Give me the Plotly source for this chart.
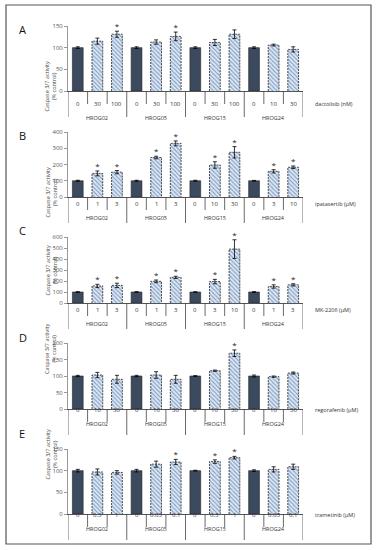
import plotly.graph_objects as go

W, H = 377, 550

groups = ["HROG02", "HROG05", "HROG15", "HROG24"]

panel_letters = ["A", "B", "C", "D", "E"]
drugs = ["dactolisib (nM)", "ipatasertib (μM)", "MK-2206 (μM)", "regorafenib (μM)", "trametinib (μM)"]

doses_A = ["0", "30", "100", "0", "30", "100", "0", "30", "100", "0", "10", "30"]
doses_B = ["0", "1", "3", "0", "1", "3", "0", "10", "30", "0", "3", "10"]
doses_C = ["0", "1", "3", "0", "1", "3", "0", "3", "10", "0", "1", "3"]
doses_D = ["0", "10", "30", "0", "10", "30", "0", "10", "30", "0", "10", "30"]
doses_E = ["0", "0.3", "1", "0", "0.03", "0.1", "0", "0.3", "1", "0", "0.03", "0.1"]

values_A = [100, 115, 131, 100, 113, 126, 100, 112, 131, 100, 106, 96]
values_B = [100, 145, 153, 100, 243, 330, 100, 197, 275, 100, 158, 183]
values_C = [100, 155, 160, 100, 197, 233, 100, 195, 490, 100, 150, 165]
values_D = [100, 103, 90, 100, 103, 90, 100, 116, 169, 100, 98, 109]
values_E = [100, 97, 96, 100, 115, 120, 100, 121, 130, 100, 103, 109]

errors_A = [2, 7, 7, 2, 5, 10, 2, 7, 10, 2, 2, 6]
errors_B = [3, 15, 10, 3, 8, 15, 3, 20, 35, 2, 10, 8]
errors_C = [3, 15, 20, 3, 12, 10, 2, 20, 85, 3, 15, 10]
errors_D = [2, 8, 12, 2, 10, 12, 1, 2, 10, 3, 2, 3]
errors_E = [3, 7, 4, 3, 7, 6, 1, 4, 3, 2, 6, 6]

signif_A = [0, 0, 1, 0, 0, 1, 0, 0, 0, 0, 0, 0]
signif_B = [0, 1, 1, 0, 1, 1, 0, 1, 1, 0, 1, 1]
signif_C = [0, 1, 1, 0, 1, 1, 0, 1, 1, 0, 1, 1]
signif_D = [0, 0, 0, 0, 0, 0, 0, 0, 1, 0, 0, 0]
signif_E = [0, 0, 0, 0, 0, 1, 0, 1, 1, 0, 0, 0]

ymax = [150, 400, 600, 200, 150]
ydtick = [50, 100, 100, 50, 50]

doses = [doses_A, doses_B, doses_C, doses_D, doses_E]
values = [values_A, values_B, values_C, values_D, values_E]
errors = [errors_A, errors_B, errors_C, errors_D, errors_E]
signif = [signif_A, signif_B, signif_C, signif_D, signif_E]

# layout geometry (pixels)
axis_top_px = [26, 132, 237, 343, 449]
axis_zero_px = [91, 197, 303, 409, 514]
x_left_px, x_right_px = 68, 303
BAR_W = 0.55

DARK = "#3c4a5f"
LIGHT = "#dde7f3"
HATCH = "#7f9cc4"
FONT = "Open Sans"


def py(p):
    return 1 - p / H


def px(p):
    return p / W


fig = go.Figure()
shapes = []
annotations = []
layout_axes = {}

n = 12
xs = list(range(n))
for i in range(5):
    ax = "" if i == 0 else str(i + 1)
    xref = "x" + ax
    yref = "y" + ax
    ctrl_idx = [k for k in xs if k % 3 == 0]
    trt_idx = [k for k in xs if k % 3 != 0]
    fig.add_trace(go.Bar(
        x=ctrl_idx, y=[values[i][k] for k in ctrl_idx],
        error_y=dict(type="data", array=[errors[i][k] for k in ctrl_idx],
                     color="black", thickness=0.8, width=2),
        marker=dict(color=DARK, line=dict(color="#222", width=0.6)),
        width=BAR_W, xaxis=xref, yaxis=yref, showlegend=False))
    fig.add_trace(go.Bar(
        x=trt_idx, y=[values[i][k] for k in trt_idx],
        error_y=dict(type="data", array=[errors[i][k] for k in trt_idx],
                     color="black", thickness=0.8, width=2),
        marker=dict(color=LIGHT, line=dict(width=0),
                    pattern=dict(shape="\\", fgcolor=HATCH, bgcolor=LIGHT,
                                 size=3, solidity=0.35)),
        width=BAR_W, xaxis=xref, yaxis=yref, showlegend=False))
    # dashed outline of the treated bars, following the bar values
    ox, oy = [], []
    for k in trt_idx:
        v = values[i][k]
        ox += [k - BAR_W / 2, k - BAR_W / 2, k + BAR_W / 2, k + BAR_W / 2, None]
        oy += [0, v, v, 0, None]
    fig.add_trace(go.Scatter(
        x=ox, y=oy, mode="lines",
        line=dict(color="#2a2a2a", width=0.8, dash="2px,1px"),
        xaxis=xref, yaxis=yref, showlegend=False, hoverinfo="skip"))
    sx = [k for k in xs if signif[i][k]]
    fig.add_trace(go.Scatter(
        x=sx, y=[values[i][k] + errors[i][k] for k in sx],
        mode="text", text=["*"] * len(sx), textposition="top center",
        textfont=dict(size=8, color="#222", family=FONT),
        xaxis=xref, yaxis=yref, showlegend=False, cliponaxis=False))

    zero = axis_zero_px[i]
    top = axis_top_px[i]
    layout_axes["xaxis" + ax] = dict(
        domain=[px(x_left_px), px(x_right_px)], range=[-0.5, 11.5],
        showticklabels=False, ticks="", showgrid=False, zeroline=False,
        showline=True, linecolor="#555", linewidth=1, anchor=yref,
        fixedrange=True, automargin=False)
    layout_axes["yaxis" + ax] = dict(
        domain=[py(zero), py(top)], range=[0, ymax[i]], dtick=ydtick[i],
        showgrid=False, zeroline=False, showline=True, linecolor="#999",
        linewidth=1, ticks="outside", ticklen=3, tickcolor="#999",
        tickfont=dict(size=6, color="#555", family=FONT),
        anchor=xref, fixedrange=True, automargin=False)

    # table lines
    for b in range(n + 1):
        xb = b - 0.5
        long_line = (b % 3 == 0)
        shapes.append(dict(type="line", xref=xref, yref="paper",
                           x0=xb, x1=xb, y0=py(zero),
                           y1=py(zero + (26 if long_line else 13)),
                           line=dict(color="#444", width=0.8)))
    for k in xs:
        annotations.append(dict(xref=xref, yref="paper", x=k, y=py(zero + 7),
                                text=doses[i][k], showarrow=False,
                                font=dict(size=6, color="#333", family=FONT)))
    for g, name in enumerate(groups):
        annotations.append(dict(xref=xref, yref="paper", x=3 * g + 1, y=py(zero + 21),
                                text=name, showarrow=False,
                                font=dict(size=5.5, color="#333", family=FONT)))
    annotations.append(dict(xref="paper", yref="paper", x=px(313), y=py(zero + 7),
                            xanchor="left", text=drugs[i], showarrow=False,
                            font=dict(size=5.5, color="#333", family=FONT)))
    annotations.append(dict(xref="paper", yref="paper", x=px(17), y=py(top - 6),
                            xanchor="left", text=panel_letters[i], showarrow=False,
                            font=dict(size=11, color="#111", family=FONT)))
    annotations.append(dict(xref="paper", yref="paper", x=px(41), y=py((zero + top) / 2),
                            text="Caspase 3/7 activity<br>(% control)", textangle=-90,
                            showarrow=False,
                            font=dict(size=5.5, color="#444", family=FONT)))

shapes.append(dict(type="rect", xref="paper", yref="paper",
                   x0=px(6), x1=px(371), y0=py(544), y1=py(5),
                   line=dict(color="#555", width=1.2)))

fig.update_layout(template="none", width=W, height=H,
                  margin=dict(l=0, r=0, t=0, b=0, pad=0, autoexpand=False),
                  paper_bgcolor="white", plot_bgcolor="white",
                  barmode="overlay", shapes=shapes, annotations=annotations,
                  font=dict(family=FONT), hovermode=False, **layout_axes)

fig.write_html("out.html", config={"displayModeBar": False, "staticPlot": True},
               post_script="document.body.style.margin='0';document.body.style.overflow='hidden';")
